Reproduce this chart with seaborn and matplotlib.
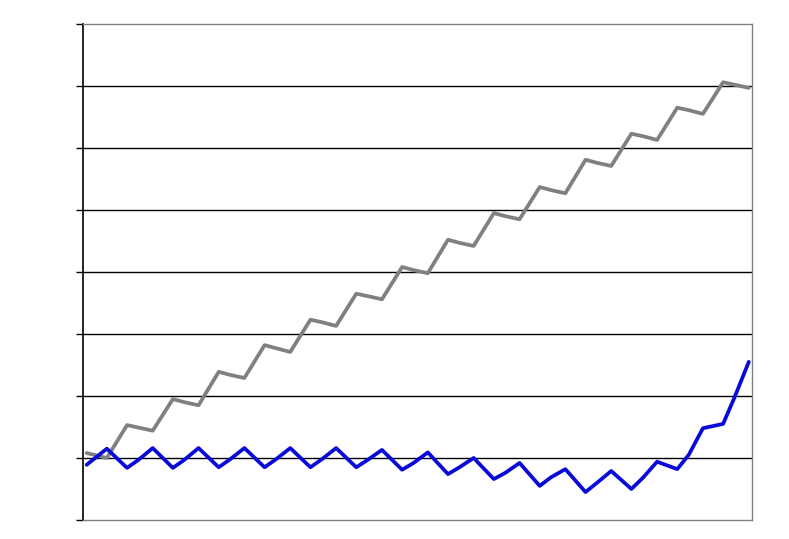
import pandas as pd
import seaborn as sns
import matplotlib.pyplot as plt

# x positions (decimal years)
t = [1990.56,
     1991.0, 1991.44, 1991.69, 1992.0, 1992.44, 1992.69, 1993.0, 1993.44, 1993.69,
     1994.0, 1994.44, 1994.69, 1995.0, 1995.44, 1995.69, 1996.0, 1996.44, 1996.69,
     1997.0, 1997.44, 1997.69, 1998.0, 1998.44, 1998.69, 1999.0, 1999.44, 1999.69,
     2000.0, 2000.44, 2000.69, 2001.0, 2001.44, 2001.69, 2002.0, 2002.44, 2002.69,
     2003.0, 2003.44, 2003.69, 2004.0, 2004.44, 2004.69, 2005.0]

blue = [0.89,
        1.15, 0.84, 0.97, 1.16, 0.84, 0.97, 1.16, 0.85, 0.98,
        1.16, 0.85, 0.98, 1.16, 0.85, 0.98, 1.16, 0.85, 0.97,
        1.13, 0.81, 0.92, 1.09, 0.74, 0.85, 1.00, 0.66, 0.76,
        0.92, 0.55, 0.69, 0.82, 0.45, 0.60, 0.79, 0.50, 0.68,
        0.94, 0.82, 1.05, 1.48, 1.55, 1.98, 2.55]

gray = [1.08,
        1.00, 1.53, 1.49, 1.44, 1.95, 1.90, 1.85, 2.39, 2.34,
        2.29, 2.82, 2.77, 2.71, 3.23, 3.19, 3.13, 3.65, 3.61,
        3.56, 4.08, 4.03, 3.98, 4.52, 4.47, 4.42, 4.95, 4.90,
        4.85, 5.37, 5.32, 5.27, 5.81, 5.76, 5.71, 6.23, 6.19,
        6.13, 6.65, 6.61, 6.55, 7.06, 7.02, 6.97]

y_ticks = [0, 1, 2, 3, 4, 5, 6, 7, 8]

df = pd.concat([
    pd.DataFrame({'t': t, 'v': gray, 's': 'gray'}),
    pd.DataFrame({'t': t, 'v': blue, 's': 'blue'}),
], ignore_index=True)

sns.set_style('white')
fig = plt.figure(figsize=(7.89, 5.39), dpi=100)
ax = fig.add_axes([0.1052, 0.0353, 0.8479, 0.9202])

# gridlines
for g in y_ticks[1:-1]:
    ax.axhline(g, color='black', lw=1.0, zorder=1)

sns.lineplot(data=df, x='t', y='v', hue='s',
             palette={'gray': '#808080', 'blue': '#0a0ad8'},
             linewidth=2.7, legend=False, ax=ax, zorder=3)

ax.set_xlim(1990.48, 2005.07)
ax.set_ylim(0, 8)
ax.set_yticks(y_ticks)
ax.set_yticklabels([])
ax.set_xticks([])
ax.set_xlabel('')
ax.set_ylabel('')
ax.tick_params(axis='y', direction='out', length=5, width=1, color='black', left=True)

for side in ['top', 'right', 'bottom']:
    ax.spines[side].set_color('#808080')
    ax.spines[side].set_linewidth(1.0)
ax.spines['left'].set_color('black')
ax.spines['left'].set_linewidth(1.2)

fig.savefig('out.png', dpi=100)
